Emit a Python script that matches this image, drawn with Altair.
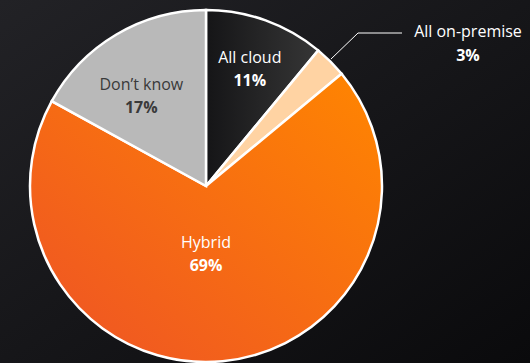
import altair as alt
import pandas as pd
import math

categories = ["All cloud", "All on-premise", "Hybrid", "Don\u2019t know"]
values = [11, 3, 69, 17]
pct_labels = ["11%", "3%", "69%", "17%"]

df = pd.DataFrame({"category": categories, "value": values, "pct": pct_labels,
                   "order": list(range(len(categories)))})

W, H = 530, 363
CX, CY, R = 206, 186, 176
FONT = "Open Sans"
FS = 16

theta_scale = alt.Scale(domain=[0, 100], range=[0, 2 * math.pi])

base = (alt.Chart(df)
        .transform_window(cum="sum(value)", sort=[{"field": "order"}], frame=[None, 0])
        .transform_calculate(start="datum.cum - datum.value",
                             mid="datum.cum - datum.value / 2"))

def grad(x1, y1, x2, y2, c0, c1):
    return {"gradient": "linear", "x1": x1, "y1": y1, "x2": x2, "y2": y2,
            "stops": [{"offset": 0, "color": c0}, {"offset": 1, "color": c1}]}

fills = {
    "All cloud": grad(0, 0, 1, 0, "#151517", "#363636"),
    "All on-premise": "#ffd3a3",
    "Hybrid": grad(0, 1, 1, 0, "#ee5226", "#ff8600"),
    "Don\u2019t know": "#b9b9b9",
}

bg = alt.Chart(pd.DataFrame({"a": [0]})).mark_rect(
    fill=grad(0, 0, 1, 1, "#222226", "#0a0a0c")
).encode(x=alt.value(0), x2=alt.value(W), y=alt.value(0), y2=alt.value(H))

layers = [bg]
for cat in categories:
    layers.append(
        base.transform_filter(alt.datum.category == cat)
        .mark_arc(outerRadius=R, stroke="white", strokeWidth=2.5, fill=fills[cat])
        .encode(theta=alt.Theta("start:Q", scale=theta_scale, stack=None),
                theta2="cum:Q",
                x=alt.value(CX), y=alt.value(CY))
    )

# inside labels: (category, radius, angle shift in %, colour)
inside = [("All cloud", 125, 0.2, "white"), ("Hybrid", 68, 1.5, "white"),
          ("Don\u2019t know", 111, -1.4, "#3a3a3a")]
for cat, rad, shift, col in inside:
    sub = (base.transform_filter(alt.datum.category == cat)
           .transform_calculate(lab=f"datum.mid + ({shift})"))
    th = alt.Theta("lab:Q", scale=theta_scale, stack=None)
    layers.append(sub.mark_text(radius=rad, dy=-11, font=FONT, fontSize=FS, color=col)
                  .encode(theta=th, text="category:N", x=alt.value(CX), y=alt.value(CY)))
    layers.append(sub.mark_text(radius=rad, dy=12, font=FONT, fontSize=FS, fontWeight="bold", color=col)
                  .encode(theta=th, text="pct:N", x=alt.value(CX), y=alt.value(CY)))

# outside label for the small slice
sub = base.transform_filter(alt.datum.category == "All on-premise")
layers.append(sub.mark_text(font=FONT, fontSize=FS, color="white")
              .encode(text="category:N", x=alt.value(468), y=alt.value(32)))
layers.append(sub.mark_text(font=FONT, fontSize=FS, fontWeight="bold", color="white")
              .encode(text="pct:N", x=alt.value(468), y=alt.value(56)))

leader = pd.DataFrame({"a": [0]})
layers.append(alt.Chart(leader).mark_rule(color="white", strokeWidth=1)
              .encode(x=alt.value(331), y=alt.value(59), x2=alt.value(358), y2=alt.value(33)))
layers.append(alt.Chart(leader).mark_rule(color="white", strokeWidth=1)
              .encode(x=alt.value(358), y=alt.value(33), x2=alt.value(402), y2=alt.value(33)))

chart = alt.layer(*layers).properties(
    width=W, height=H, padding=0, autosize=alt.AutoSizeParams(type="none"),
    background="#151518"
).configure_view(stroke=None)

chart.save("out.html", embed_options={"renderer": "svg", "actions": False})
